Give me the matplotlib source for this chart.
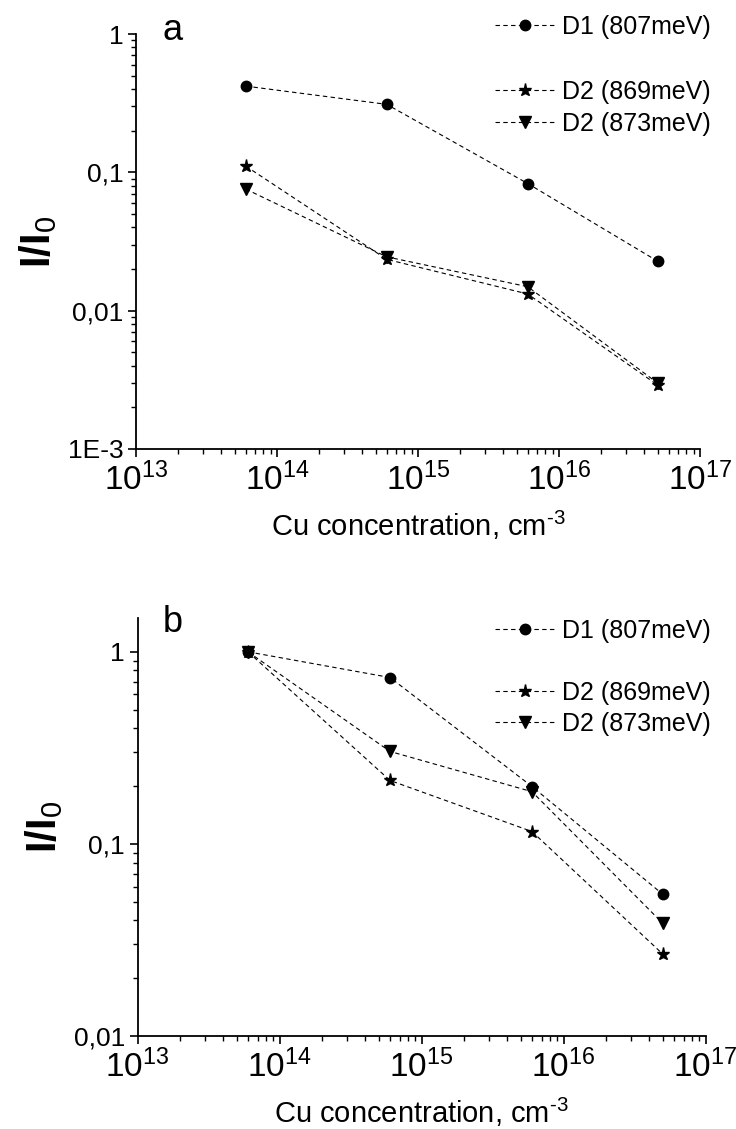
import matplotlib
matplotlib.use("Agg")
import matplotlib.pyplot as plt
from matplotlib.ticker import FixedLocator, FixedFormatter, LogLocator, NullFormatter
from matplotlib.lines import Line2D

plt.rcParams['font.family'] = ['Liberation Sans', 'DejaVu Sans']
plt.rcParams['mathtext.fontset'] = 'custom'
plt.rcParams['mathtext.rm'] = 'Liberation Sans'
plt.rcParams['mathtext.it'] = 'Liberation Sans:italic'
plt.rcParams['mathtext.bf'] = 'Liberation Sans:bold'

# Cu concentration, cm^-3
conc = [6e13, 6e14, 6e15, 5e16]

# panel a
a_d1 = [0.42, 0.31, 0.083, 0.0228]
a_d2_869 = [0.111, 0.0235, 0.0132, 0.0029]
a_d2_873 = [0.0757, 0.0245, 0.0149, 0.0030]

# panel b
b_d1 = [1.0, 0.735, 0.199, 0.0547]
b_d2_869 = [1.0, 0.214, 0.116, 0.0267]
b_d2_873 = [1.0, 0.303, 0.187, 0.0386]

labels = ["D1 (807meV)", "D2 (869meV)", "D2 (873meV)"]
xticks = [1e13, 1e14, 1e15, 1e16, 1e17]
xticklabels = [r"$10^{13}$", r"$10^{14}$", r"$10^{15}$", r"$10^{16}$", r"$10^{17}$"]
a_yticks = [1e-3, 1e-2, 1e-1, 1]
a_yticklabels = ["1E-3", "0,01", "0,1", "1"]
b_yticks = [1e-2, 1e-1, 1]
b_yticklabels = ["0,01", "0,1", "1"]

W, H = 736, 1129
fig = plt.figure(figsize=(W / 100, H / 100), dpi=100)


def box(l, t, r, b):
    return [l / W, 1 - b / H, (r - l) / W, (b - t) / H]


ax1 = fig.add_axes(box(136, 34, 700, 449))
ax2 = fig.add_axes(box(137.5, 618, 705.5, 1036))

style = dict(color='black', linestyle=(0, (4, 3)), linewidth=0.8)
markers = ['o', '*', 'v']
msizes = [7.5, 9.5, 8.5]


def panel(ax, series, yticks, ylabels, ylim, letter, letter_y, leg_y, leg_sp):
    for ys, m, ms in zip(series, markers, msizes):
        ax.plot(conc, ys, marker=m, markersize=ms, **style)
    ax.set_xscale('log')
    ax.set_yscale('log')
    ax.set_xlim(1e13, 1e17)
    ax.set_ylim(*ylim)
    for s in ['top', 'right']:
        ax.spines[s].set_visible(False)
    for s in ['left', 'bottom']:
        ax.spines[s].set_linewidth(1.3)
    ax.xaxis.set_major_locator(FixedLocator(xticks))
    ax.xaxis.set_major_formatter(FixedFormatter(xticklabels))
    ax.yaxis.set_major_locator(FixedLocator(yticks))
    ax.yaxis.set_major_formatter(FixedFormatter(ylabels))
    ax.xaxis.set_minor_locator(LogLocator(base=10, subs=range(2, 10), numticks=20))
    ax.yaxis.set_minor_locator(LogLocator(base=10, subs=range(2, 10), numticks=20))
    ax.xaxis.set_minor_formatter(NullFormatter())
    ax.yaxis.set_minor_formatter(NullFormatter())
    ax.tick_params(axis='both', which='major', direction='out', length=6, width=1.2)
    ax.tick_params(axis='both', which='minor', direction='out', length=3.5, width=1.0)
    ax.tick_params(axis='x', which='major', labelsize=24, pad=4)
    ax.tick_params(axis='y', which='major', labelsize=19, pad=3)
    ax.set_xlabel(r"Cu concentration, cm$^{\text{-3}}$", fontsize=21, labelpad=8)
    ax.set_ylabel(r"$\mathbf{I/I}_\mathrm{0}$", fontsize=30, labelpad=6)
    ax.text(163 / W, 1 - letter_y / H, letter, transform=fig.transFigure,
            fontsize=26, va='center', ha='left')

    handles = [Line2D([], [], marker=markers[0], markersize=msizes[0], **style),
               Line2D([], [], linestyle='none'),
               Line2D([], [], marker=markers[1], markersize=msizes[1], **style),
               Line2D([], [], marker=markers[2], markersize=msizes[2], **style)]
    ax.legend(handles, [labels[0], "", labels[1], labels[2]], loc='upper left',
              bbox_to_anchor=(495 / W, 1 - leg_y / H), bbox_transform=fig.transFigure,
              frameon=False, fontsize=18, handlelength=2.4, handletextpad=0.3,
              labelspacing=leg_sp, borderpad=0, borderaxespad=0)


panel(ax1, [a_d1, a_d2_869, a_d2_873], a_yticks, a_yticklabels, (1e-3, 1), "a",
      30, 15, 0.33)
panel(ax2, [b_d1, b_d2_869, b_d2_873], b_yticks, b_yticklabels, (1e-2, 1.5), "b",
      622, 619, 0.28)

fig.savefig("out.png", dpi=100)
